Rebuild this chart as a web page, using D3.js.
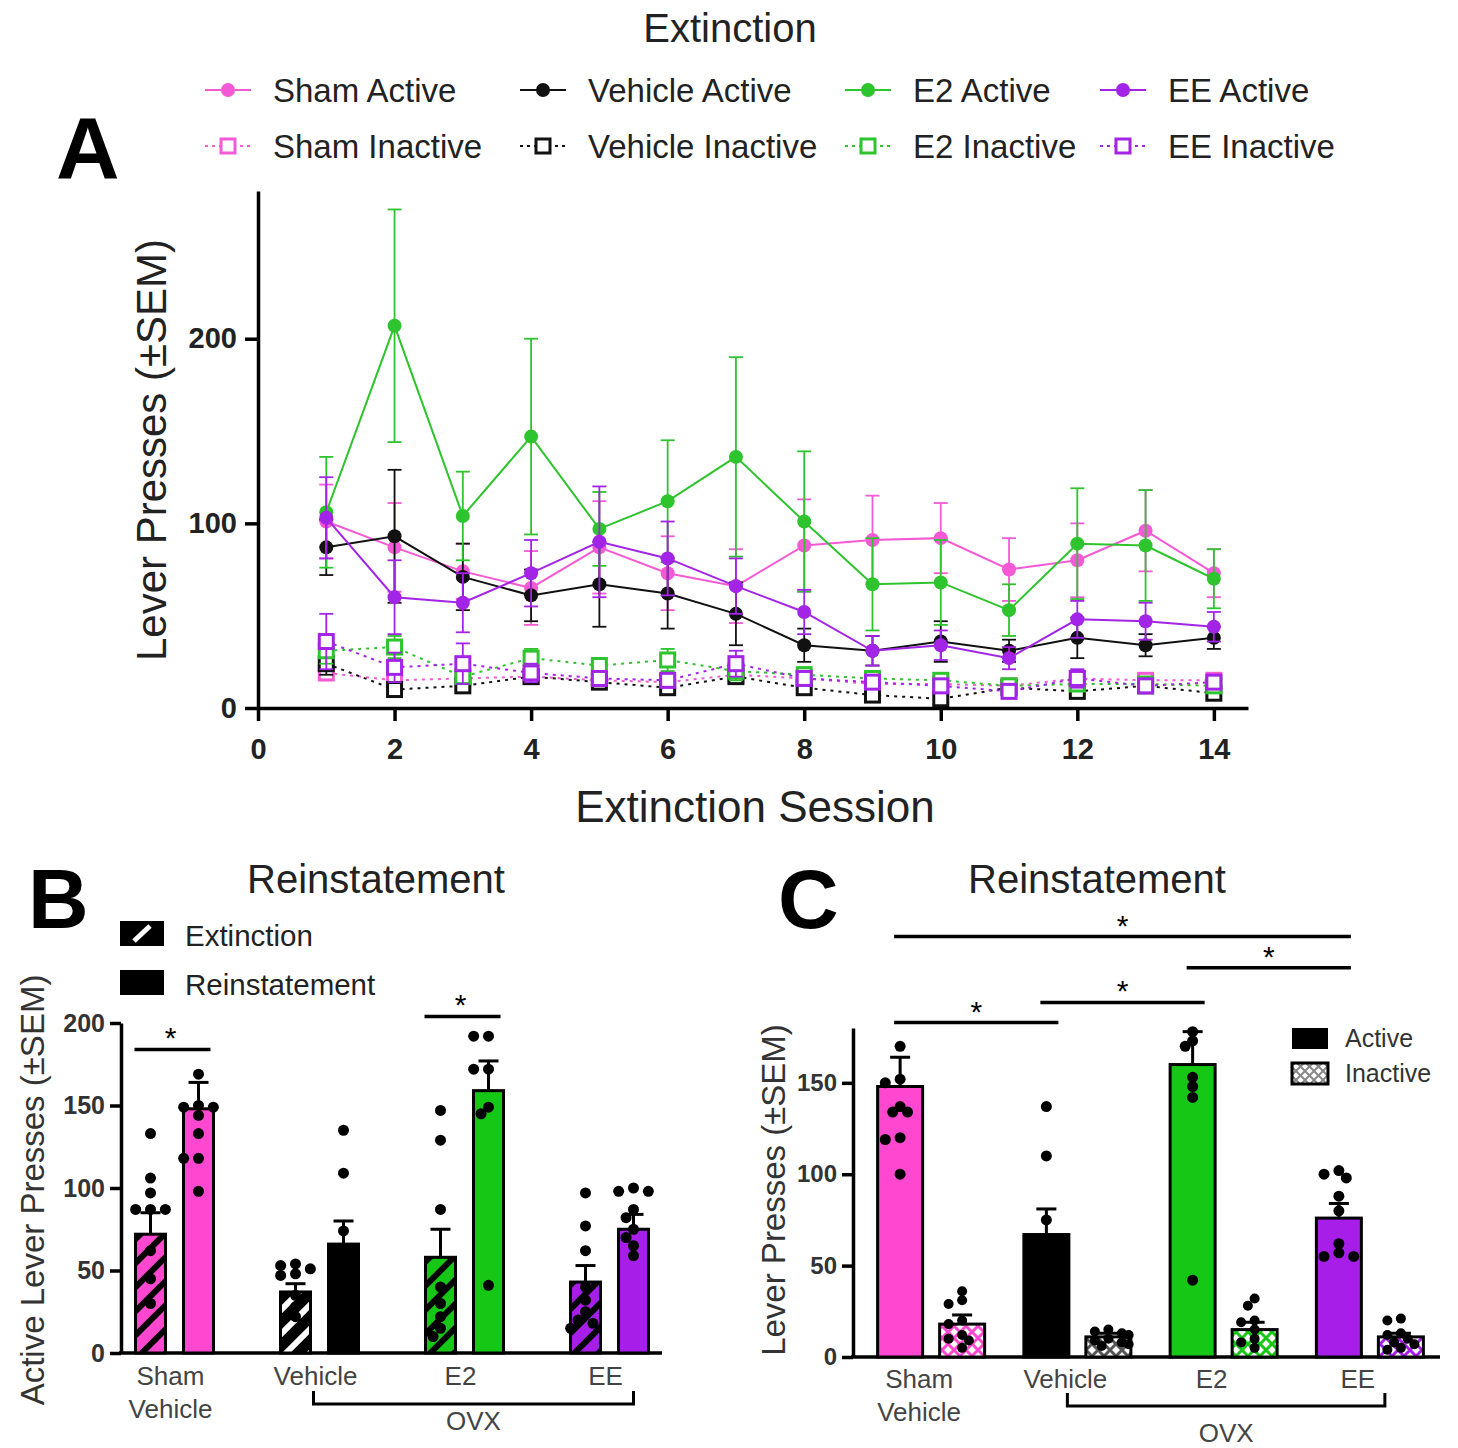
<!DOCTYPE html>
<html>
<head>
<meta charset="utf-8">
<title>Extinction and Reinstatement</title>
<style>
body { margin: 0; background: #fff; }
svg text { font-family: "Liberation Sans", Arial, sans-serif; }
</style>
</head>
<body>
<svg width="1458" height="1448"></svg>
<script src="https://d3js.org/d3.v7.min.js"></script>
<script>
// ---- data: panel A (extinction sessions) ----
var sessions = [1, 2, 3, 4, 5, 6, 7, 8, 9, 10, 11, 12, 13, 14];
var xTicksA = [0, 2, 4, 6, 8, 10, 12, 14];
var yTicksA = [0, 100, 200];

var shamActive       = [101, 87, 74, 65, 87, 73, 66, 88, 91, 92, 75, 80, 96, 73];
var shamActiveSem    = [20, 24, 15, 20, 25, 20, 20, 25, 24, 19, 17, 20, 22, 13];
var vehicleActive    = [87, 93, 71, 61, 67, 62, 51, 34, 31, 36, 31, 38, 34, 38];
var vehicleActiveSem = [15, 36, 18, 14, 23, 19, 17, 9, 8, 11, 6, 11, 6, 6];
var e2Active         = [106, 207, 104, 147, 97, 112, 136, 101, 67, 68, 53, 89, 88, 70];
var e2ActiveSem      = [30, 63, 24, 53, 20, 33, 54, 38, 25, 23, 14, 30, 30, 16];
var eeActive         = [103, 60, 57, 73, 90, 81, 66, 52, 31, 34, 27, 48, 47, 44];
var eeActiveSem      = [22, 20, 16, 18, 30, 20, 15, 12, 8, 8, 6, 10, 10, 8];

var shamInactive       = [19, 15, 16, 17, 15, 14, 18, 16, 13, 13, 12, 16, 15, 15];
var shamInactiveSem    = [4, 3, 3, 3, 3, 3, 4, 3, 2, 2, 2, 4, 3, 2];
var vehicleInactive    = [24, 10, 12, 17, 14, 11, 17, 11, 7, 5, 11, 9, 12, 8];
var vehicleInactiveSem = [6, 3, 3, 4, 3, 3, 4, 3, 2, 2, 3, 2, 3, 2];
var e2Inactive         = [31, 33, 17, 27, 23, 26, 20, 18, 16, 15, 12, 13, 13, 12];
var e2InactiveSem      = [7, 6, 4, 5, 4, 6, 5, 4, 3, 3, 3, 3, 3, 3];
var eeInactive         = [36, 22, 24, 19, 16, 15, 24, 16, 14, 12, 9, 16, 12, 14];
var eeInactiveSem      = [15, 8, 11, 5, 4, 4, 7, 4, 3, 3, 3, 5, 3, 3];

// ---- data: groups ----
var groups = ["Sham", "Vehicle", "E2", "EE"];
var groupColors = ["#ff47d0", "#000000", "#16c716", "#a61ee8"];
var lineColors = ["#f45ad6", "#111111", "#2ec42e", "#a324e6"];

// ---- data: panel B (active presses, extinction vs reinstatement) ----
var bYTicks = [0, 50, 100, 150, 200];
var extMeans = [72, 37, 58, 43];
var extSem = [13, 5, 17, 10];
var reinMeans = [148, 66, 159, 75];
var reinSem = [16, 14, 18, 9];
var extPoints = [
  [133, 106, 97, 87, 87, 87, 62, 45, 30],
  [54, 53, 51, 48, 47, 35, 28, 22],
  [147, 129, 87, 40, 30, 22, 15, 10],
  [97, 77, 62, 40, 32, 25, 18, 15, 20]
];
var reinPoints = [
  [169, 149, 149, 144, 133, 118, 118, 98, 150],
  [135, 109, 74, 60, 50, 42, 32, 26],
  [192, 192, 172, 172, 149, 145, 41],
  [100, 98, 98, 87, 82, 65, 59, 70, 75]
];

// ---- data: panel C (reinstatement, active vs inactive) ----
var cYTicks = [0, 50, 100, 150];
var activeMeans = [148, 67, 160, 76];
var activeSem = [16, 14, 18, 8];
var inactiveMeans = [18, 11, 15, 11];
var inactiveSem = [5, 2, 4, 2];
var activePoints = [
  [170, 152, 150, 137, 134, 134, 120, 119, 100],
  [137, 110, 75, 60, 50, 40, 30, 25],
  [178, 173, 170, 153, 148, 142, 42],
  [102, 100, 98, 88, 80, 62, 57, 55, 55]
];
var inactivePoints = [
  [36, 31, 29, 20, 18, 12, 10, 9, 5],
  [15, 14, 13, 12, 10, 9, 8, 7, 6],
  [32, 28, 20, 19, 15, 10, 8, 5],
  [21, 20, 13, 12, 10, 8, 7, 5, 4]
];
var cSig = [
  { from: "Sham", to: "EE", value: 230 },
  { from: "E2", to: "EE", value: 213 },
  { from: "Vehicle", to: "E2", value: 194 },
  { from: "Sham", to: "Vehicle", value: 183 }
];

var svg = d3.select("svg");
var defs = svg.append("defs");

// diagonal stripes for extinction bars, crosshatch for inactive bars
groups.forEach(function(g, i) {
  var p = defs.append("pattern")
    .attr("id", "stripe" + i)
    .attr("patternUnits", "userSpaceOnUse")
    .attr("width", 17).attr("height", 17)
    .attr("patternTransform", "rotate(45)");
  p.append("rect").attr("width", 17).attr("height", 17).attr("fill", groupColors[i]);
  p.append("rect").attr("width", 6).attr("height", 17).attr("fill", i == 1 ? "#fff" : "#000");

  var c = defs.append("pattern")
    .attr("id", "cross" + i)
    .attr("patternUnits", "userSpaceOnUse")
    .attr("width", 12).attr("height", 12);
  c.append("rect").attr("width", 12).attr("height", 12).attr("fill", "#fff");
  c.append("path").attr("d", "M0,0L12,12M12,0L0,12")
    .attr("stroke", i == 1 ? "#555" : groupColors[i]).attr("stroke-width", 3);
});
var cl = defs.append("pattern").attr("id", "crossLegend")
  .attr("patternUnits", "userSpaceOnUse").attr("width", 9).attr("height", 9);
cl.append("rect").attr("width", 9).attr("height", 9).attr("fill", "#fff");
cl.append("path").attr("d", "M0,0L9,9M9,0L0,9").attr("stroke", "#888").attr("stroke-width", 2);

function styleAxis(g, fontSize, bold, fill) {
  g.selectAll("path.domain").attr("stroke", "#000").attr("stroke-width", 3.5);
  g.selectAll(".tick line").attr("stroke", "#000").attr("stroke-width", 3.5);
  g.selectAll(".tick text")
    .attr("font-size", fontSize)
    .attr("font-weight", bold ? "bold" : "normal")
    .attr("fill", fill)
    .attr("font-family", "Liberation Sans, Arial, sans-serif");
}

// dodge overlapping dots sideways
function dodge(values, cx, y, r) {
  var placed = [];
  var steps = [0, -1, 1, -2, 2, -3, 3];
  values.slice().sort(d3.descending).forEach(function(v) {
    var py = y(v), px = cx;
    for (var k = 0; k < steps.length; k++) {
      px = cx + steps[k] * r * 1.35;
      var ok = placed.every(function(p) { return Math.hypot(p.x - px, p.y - py) >= 2 * r - 2; });
      if (ok) break;
    }
    placed.push({ x: px, y: py });
  });
  return placed;
}

// =================== PANEL A ===================
var xA = d3.scaleLinear().domain([0, 14.5]).range([258, 1248]);
var yA = d3.scaleLinear().domain([0, 280]).range([708, 191]);

svg.append("text").attr("x", 730).attr("y", 42).attr("text-anchor", "middle")
  .attr("font-size", 40).attr("fill", "#222").text("Extinction");
svg.append("text").attr("x", 56).attr("y", 178)
  .attr("font-size", 88).attr("font-weight", "bold").text("A");

var gxA = svg.append("g").attr("transform", "translate(0,708)")
  .call(d3.axisBottom(xA).tickValues(xTicksA).tickSize(13).tickSizeOuter(0).tickPadding(17));
styleAxis(gxA, 29, true, "#222");
var gyA = svg.append("g").attr("transform", "translate(258,0)")
  .call(d3.axisLeft(yA).tickValues(yTicksA).tickSize(13).tickSizeOuter(0).tickPadding(8));
styleAxis(gyA, 29, true, "#222");

svg.append("text").attr("transform", "translate(166,450) rotate(-90)")
  .attr("text-anchor", "middle").attr("font-size", 42).attr("fill", "#222")
  .text("Lever Presses (\u00B1SEM)");
svg.append("text").attr("x", 755).attr("y", 822).attr("text-anchor", "middle")
  .attr("font-size", 44).attr("fill", "#222").text("Extinction Session");

var seriesA = [
  { name: "Sham Inactive", v: shamInactive, e: shamInactiveSem, c: 0, active: false },
  { name: "Vehicle Inactive", v: vehicleInactive, e: vehicleInactiveSem, c: 1, active: false },
  { name: "E2 Inactive", v: e2Inactive, e: e2InactiveSem, c: 2, active: false },
  { name: "EE Inactive", v: eeInactive, e: eeInactiveSem, c: 3, active: false },
  { name: "Sham Active", v: shamActive, e: shamActiveSem, c: 0, active: true },
  { name: "Vehicle Active", v: vehicleActive, e: vehicleActiveSem, c: 1, active: true },
  { name: "E2 Active", v: e2Active, e: e2ActiveSem, c: 2, active: true },
  { name: "EE Active", v: eeActive, e: eeActiveSem, c: 3, active: true }
];

var line = d3.line().x(function(d) { return xA(d.x); }).y(function(d) { return yA(d.y); });
var plotA = svg.append("g");

seriesA.forEach(function(s) {
  var col = lineColors[s.c];
  var pts = sessions.map(function(x, i) { return { x: x, y: s.v[i], e: s.e[i] }; });
  var g = plotA.append("g");
  // error bars
  var eb = g.selectAll("g.err").data(pts).enter().append("g")
    .attr("stroke", col).attr("stroke-width", 1.8).attr("fill", "none");
  eb.append("line")
    .attr("x1", function(d) { return xA(d.x); }).attr("x2", function(d) { return xA(d.x); })
    .attr("y1", function(d) { return yA(d.y - d.e); }).attr("y2", function(d) { return yA(d.y + d.e); });
  eb.append("line")
    .attr("x1", function(d) { return xA(d.x) - 7; }).attr("x2", function(d) { return xA(d.x) + 7; })
    .attr("y1", function(d) { return yA(d.y + d.e); }).attr("y2", function(d) { return yA(d.y + d.e); });
  eb.append("line")
    .attr("x1", function(d) { return xA(d.x) - 7; }).attr("x2", function(d) { return xA(d.x) + 7; })
    .attr("y1", function(d) { return yA(d.y - d.e); }).attr("y2", function(d) { return yA(d.y - d.e); });
  // line
  g.append("path").datum(pts).attr("d", line)
    .attr("fill", "none").attr("stroke", col).attr("stroke-width", 2)
    .attr("stroke-dasharray", s.active ? null : "3,5");
  // markers
  if (s.active) {
    g.selectAll("circle").data(pts).enter().append("circle")
      .attr("cx", function(d) { return xA(d.x); }).attr("cy", function(d) { return yA(d.y); })
      .attr("r", 7).attr("fill", col);
  } else {
    g.selectAll("rect").data(pts).enter().append("rect")
      .attr("x", function(d) { return xA(d.x) - 7; }).attr("y", function(d) { return yA(d.y) - 7; })
      .attr("width", 14).attr("height", 14)
      .attr("fill", "#fff").attr("stroke", col).attr("stroke-width", 3);
  }
});

// legend A
var legCols = [205, 520, 845, 1100];
var legRows = [90, 146];
var legendItems = [];
groups.forEach(function(g, i) {
  legendItems.push({ label: g + " Active", c: i, row: 0, active: true });
  legendItems.push({ label: g + " Inactive", c: i, row: 1, active: false });
});
var leg = svg.append("g").selectAll("g").data(legendItems).enter().append("g")
  .attr("transform", function(d) { return "translate(" + legCols[d.c] + "," + legRows[d.row] + ")"; });
leg.append("line").attr("x1", 0).attr("x2", 46).attr("y1", 0).attr("y2", 0)
  .attr("stroke", function(d) { return lineColors[d.c]; }).attr("stroke-width", 2)
  .attr("stroke-dasharray", function(d) { return d.active ? null : "3,4"; });
leg.filter(function(d) { return d.active; }).append("circle")
  .attr("cx", 23).attr("r", 7).attr("fill", function(d) { return lineColors[d.c]; });
leg.filter(function(d) { return !d.active; }).append("rect")
  .attr("x", 16).attr("y", -7).attr("width", 14).attr("height", 14)
  .attr("fill", "#fff").attr("stroke", function(d) { return lineColors[d.c]; }).attr("stroke-width", 3);
leg.append("text").attr("x", 68).attr("y", 12).attr("font-size", 33).attr("fill", "#222")
  .text(function(d) { return d.label; });

// =================== PANEL B ===================
var xB = d3.scaleBand().domain(groups).range([102, 682]);
var yB = d3.scaleLinear().domain([0, 200]).range([1353, 1023]);
var bw = 30, bOff = 24;

svg.append("text").attr("x", 28).attr("y", 928)
  .attr("font-size", 84).attr("font-weight", "bold").text("B");
svg.append("text").attr("x", 376).attr("y", 893).attr("text-anchor", "middle")
  .attr("font-size", 40).attr("fill", "#222").text("Reinstatement");

// legend B
svg.append("rect").attr("x", 120).attr("y", 921).attr("width", 44).attr("height", 25).attr("fill", "#000");
svg.append("line").attr("x1", 134).attr("y1", 941).attr("x2", 150).attr("y2", 926)
  .attr("stroke", "#fff").attr("stroke-width", 5);
svg.append("text").attr("x", 185).attr("y", 946).attr("font-size", 29.5).attr("fill", "#222").text("Extinction");
svg.append("rect").attr("x", 120).attr("y", 970).attr("width", 44).attr("height", 25).attr("fill", "#000");
svg.append("text").attr("x", 185).attr("y", 995).attr("font-size", 29.5).attr("fill", "#222").text("Reinstatement");

var gyB = svg.append("g").attr("transform", "translate(121,0)")
  .call(d3.axisLeft(yB).tickValues(bYTicks).tickSize(11).tickSizeOuter(0).tickPadding(5));
styleAxis(gyB, 25, true, "#333");
svg.append("line").attr("x1", 119).attr("x2", 662).attr("y1", 1353).attr("y2", 1353)
  .attr("stroke", "#000").attr("stroke-width", 3.5);

svg.append("text").attr("transform", "translate(44,1190) rotate(-90)")
  .attr("text-anchor", "middle").attr("font-size", 33).attr("fill", "#333")
  .text("Active Lever Presses (\u00B1SEM)");

function drawBar(g, cx, w, mean, sem, y, fill) {
  g.append("rect").attr("x", cx - w / 2).attr("y", y(mean))
    .attr("width", w).attr("height", y(0) - y(mean))
    .attr("fill", fill).attr("stroke", "#000").attr("stroke-width", 3);
  g.append("line").attr("x1", cx).attr("x2", cx).attr("y1", y(mean)).attr("y2", y(mean + sem))
    .attr("stroke", "#000").attr("stroke-width", 3);
  g.append("line").attr("x1", cx - 10).attr("x2", cx + 10).attr("y1", y(mean + sem)).attr("y2", y(mean + sem))
    .attr("stroke", "#000").attr("stroke-width", 3);
}
function drawDots(g, values, cx, y, r) {
  g.selectAll(null).data(dodge(values, cx, y, r)).enter().append("circle")
    .attr("cx", function(d) { return d.x; }).attr("cy", function(d) { return d.y; })
    .attr("r", r).attr("fill", "#000");
}

var barsB = svg.append("g");
groups.forEach(function(g, i) {
  var cx = xB(g) + xB.bandwidth() / 2;
  drawBar(barsB, cx - bOff, bw, extMeans[i], extSem[i], yB, "url(#stripe" + i + ")");
  drawBar(barsB, cx + bOff, bw, reinMeans[i], reinSem[i], yB, groupColors[i]);
  drawDots(barsB, extPoints[i], cx - bOff, yB, 5.5);
  drawDots(barsB, reinPoints[i], cx + bOff, yB, 5.5);
});

// x labels B
var bLabels = svg.append("g").attr("font-size", 26).attr("fill", "#444").attr("text-anchor", "middle");
groups.forEach(function(g, i) {
  var cx = xB(g) + xB.bandwidth() / 2;
  bLabels.append("text").attr("x", cx - 4).attr("y", 1385).text(g);
});
bLabels.append("text").attr("x", xB("Sham") + xB.bandwidth() / 2 - 4).attr("y", 1418).text("Vehicle");
var bL = xB("Vehicle") + xB.bandwidth() / 2 - 6, bR = xB("EE") + xB.bandwidth() / 2 + bOff;
svg.append("path").attr("d", "M" + bL + ",1391V1404H" + bR + "V1391")
  .attr("fill", "none").attr("stroke", "#000").attr("stroke-width", 3);
bLabels.append("text").attr("x", (bL + bR) / 2).attr("y", 1430).text("OVX");

// significance B
[{ g: "Sham", v: 184 }, { g: "E2", v: 204 }].forEach(function(s) {
  var cx = xB(s.g) + xB.bandwidth() / 2;
  svg.append("line").attr("x1", cx - bOff - 16).attr("x2", cx + bOff + 12)
    .attr("y1", yB(s.v)).attr("y2", yB(s.v)).attr("stroke", "#000").attr("stroke-width", 3.5);
  svg.append("text").attr("x", cx - 4).attr("y", yB(s.v) - 1).attr("text-anchor", "middle")
    .attr("font-size", 30).text("*");
});

// =================== PANEL C ===================
var xC = d3.scaleBand().domain(groups).range([858, 1443]);
var yC = d3.scaleLinear().domain([0, 180]).range([1357, 1028]);
var cw = 45, cOff = 31;

svg.append("text").attr("x", 778).attr("y", 928)
  .attr("font-size", 84).attr("font-weight", "bold").text("C");
svg.append("text").attr("x", 1097).attr("y", 893).attr("text-anchor", "middle")
  .attr("font-size", 40).attr("fill", "#222").text("Reinstatement");

var gyC = svg.append("g").attr("transform", "translate(853,0)")
  .call(d3.axisLeft(yC).tickValues(cYTicks).tickSize(11).tickSizeOuter(0).tickPadding(5));
styleAxis(gyC, 24, true, "#333");
svg.append("line").attr("x1", 851).attr("x2", 1440).attr("y1", 1357).attr("y2", 1357)
  .attr("stroke", "#000").attr("stroke-width", 3.5);

svg.append("text").attr("transform", "translate(785,1190) rotate(-90)")
  .attr("text-anchor", "middle").attr("font-size", 33).attr("fill", "#333")
  .text("Lever Presses (\u00B1SEM)");

var barsC = svg.append("g");
groups.forEach(function(g, i) {
  var cx = xC(g) + xC.bandwidth() / 2;
  drawBar(barsC, cx - cOff, cw, activeMeans[i], activeSem[i], yC, groupColors[i]);
  drawBar(barsC, cx + cOff, cw, inactiveMeans[i], inactiveSem[i], yC, "url(#cross" + i + ")");
  drawDots(barsC, activePoints[i], cx - cOff, yC, 5.5);
  drawDots(barsC, inactivePoints[i], cx + cOff, yC, 5);
});

// legend C
svg.append("rect").attr("x", 1292).attr("y", 1028).attr("width", 36).attr("height", 21).attr("fill", "#000");
svg.append("text").attr("x", 1345).attr("y", 1047).attr("font-size", 25).attr("fill", "#333").text("Active");
svg.append("rect").attr("x", 1292).attr("y", 1063).attr("width", 36).attr("height", 21)
  .attr("fill", "url(#crossLegend)").attr("stroke", "#000").attr("stroke-width", 3);
svg.append("text").attr("x", 1345).attr("y", 1082).attr("font-size", 25).attr("fill", "#333").text("Inactive");

// x labels C
var cLabels = svg.append("g").attr("font-size", 26).attr("fill", "#444").attr("text-anchor", "middle");
groups.forEach(function(g, i) {
  var cx = xC(g) + xC.bandwidth() / 2;
  cLabels.append("text").attr("x", cx - 12).attr("y", 1388).text(g);
});
cLabels.append("text").attr("x", xC("Sham") + xC.bandwidth() / 2 - 12).attr("y", 1421).text("Vehicle");
var cL = xC("Vehicle") + xC.bandwidth() / 2 - 10, cR = xC("EE") + xC.bandwidth() / 2 + 15;
svg.append("path").attr("d", "M" + cL + ",1393V1406H" + cR + "V1393")
  .attr("fill", "none").attr("stroke", "#000").attr("stroke-width", 3);
cLabels.append("text").attr("x", (cL + cR) / 2).attr("y", 1442).text("OVX");

// significance C
cSig.forEach(function(s) {
  var x1 = xC(s.from) + xC.bandwidth() / 2 - cOff - 6;
  var x2 = xC(s.to) + xC.bandwidth() / 2 - cOff + 12;
  svg.append("line").attr("x1", x1).attr("x2", x2).attr("y1", yC(s.value)).attr("y2", yC(s.value))
    .attr("stroke", "#000").attr("stroke-width", 3.5);
  svg.append("text").attr("x", (x1 + x2) / 2).attr("y", yC(s.value) - 1).attr("text-anchor", "middle")
    .attr("font-size", 30).text("*");
});
</script>
</body>
</html>
